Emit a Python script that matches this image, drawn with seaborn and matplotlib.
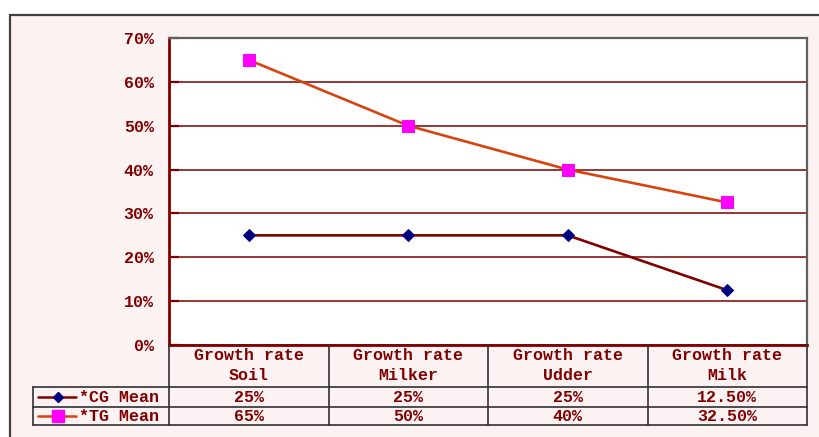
import matplotlib
matplotlib.use("Agg")
import matplotlib.pyplot as plt
import seaborn as sns
import pandas as pd
from matplotlib.lines import Line2D
from matplotlib.patches import Rectangle

# ---- data ----
categories = ["Soil", "Milker", "Udder", "Milk"]
header_prefix = "Growth rate"
cg_mean = [25, 25, 25, 12.5]
tg_mean = [65, 50, 40, 32.5]
series_names = ["*CG Mean", "*TG Mean"]
y_ticks = [0, 10, 20, 30, 40, 50, 60, 70]

# ---- style ----
DARK_RED = "#800000"
BG = "#FDF2F2"
CG_LINE, CG_MARK = "#800000", "#000080"
TG_LINE, TG_MARK = "#D8440F", "#FF00FF"
FONT = dict(family="Liberation Mono", weight="bold", color=DARK_RED, size=12)

sns.set_style("white")
plt.rcParams["font.family"] = ["Liberation Mono", "DejaVu Sans Mono"]

W, H = 819, 437
fig = plt.figure(figsize=(W / 100, H / 100), dpi=100)
fig.patch.set_facecolor("white")

# background frame in pixel coordinates
ov = fig.add_axes([0, 0, 1, 1], zorder=0)
ov.set_xlim(0, W)
ov.set_ylim(H, 0)
ov.axis("off")
ov.add_patch(Rectangle((9.5, 14.5), W + 20, H + 20, facecolor=BG,
                       edgecolor="#404040", linewidth=1.6))

# plot area
L, R, T, B = 169, 807, 38, 345
ax = fig.add_axes([L / W, 1 - B / H, (R - L) / W, (B - T) / H], zorder=2)
ax.set_facecolor("white")

df = pd.DataFrame({
    "x": list(range(len(categories))) * 2,
    "value": cg_mean + tg_mean,
    "series": [series_names[0]] * len(categories) + [series_names[1]] * len(categories),
})
sns.lineplot(data=df[df.series == series_names[0]], x="x", y="value", ax=ax,
             color=CG_LINE, linewidth=1.9, marker="D", markersize=6,
             markerfacecolor=CG_MARK, markeredgecolor=CG_MARK, legend=False)
sns.lineplot(data=df[df.series == series_names[1]], x="x", y="value", ax=ax,
             color=TG_LINE, linewidth=1.9, marker="s", markersize=8,
             markerfacecolor=TG_MARK, markeredgecolor=TG_MARK, legend=False)

ax.set_xlim(-0.5, len(categories) - 0.5)
ax.set_ylim(0, 70)
ax.set_yticks(y_ticks)
ax.set_yticklabels([f"{t}%" for t in y_ticks], fontdict=FONT)
ax.set_xticks([])
ax.set_xlabel("")
ax.set_ylabel("")
ax.grid(axis="y", color=DARK_RED, linewidth=1.1)
ax.set_axisbelow(True)
ax.tick_params(axis="y", direction="in", length=7, width=1.6, color=DARK_RED,
               pad=11, left=True)
for s in ("left", "bottom"):
    ax.spines[s].set_color(DARK_RED)
    ax.spines[s].set_linewidth(2.0)
for s in ("top", "right"):
    ax.spines[s].set_color("#606060")
    ax.spines[s].set_linewidth(1.6)

# data table below the plot
col_w = (R - L) / len(categories)
col_edges = [L + i * col_w for i in range(len(categories) + 1)]
row_y = [B, 387, 406.5, 425]
leg_left = 33
GRID_KW = dict(color="#303030", linewidth=1.2)

ov2 = fig.add_axes([0, 0, 1, 1], zorder=3)
ov2.set_xlim(0, W)
ov2.set_ylim(H, 0)
ov2.axis("off")
ov2.patch.set_alpha(0)

for y in row_y[1:]:
    ov2.add_line(Line2D([leg_left, R], [y, y], **GRID_KW))
for x in col_edges[1:]:
    ov2.add_line(Line2D([x, x], [row_y[0], row_y[3]], **GRID_KW))
ov2.add_line(Line2D([L, L], [row_y[0], row_y[3]], **GRID_KW))
ov2.add_line(Line2D([leg_left, leg_left], [row_y[1], row_y[3]], **GRID_KW))

def fmt(v):
    return f"{v:.0f}%" if float(v).is_integer() else f"{v:.2f}%"

for i, cat in enumerate(categories):
    cx = (col_edges[i] + col_edges[i + 1]) / 2
    ov2.text(cx, 355, header_prefix, ha="center", va="center", **FONT)
    ov2.text(cx, 376, cat, ha="center", va="center", **FONT)
    ov2.text(cx, (row_y[1] + row_y[2]) / 2 + 0.5, fmt(cg_mean[i]),
             ha="center", va="center", **FONT)
    ov2.text(cx, (row_y[2] + row_y[3]) / 2 + 0.5, fmt(tg_mean[i]),
             ha="center", va="center", **FONT)

# legend keys in the first column
keys = [(CG_LINE, CG_MARK, "D", 5), (TG_LINE, TG_MARK, "s", 8)]
for j, (lc, mc, mk, ms) in enumerate(keys):
    yc = (row_y[j + 1] + row_y[j + 2]) / 2
    ov2.add_line(Line2D([38, 76], [yc, yc], color=lc, linewidth=1.8))
    ov2.add_line(Line2D([58], [yc], marker=mk, markersize=ms, color=mc,
                        markeredgecolor=mc, linestyle="none"))
    ov2.text(79, yc + 0.5, series_names[j], ha="left", va="center", **FONT)

fig.savefig("out.png", dpi=100, facecolor=fig.get_facecolor())
